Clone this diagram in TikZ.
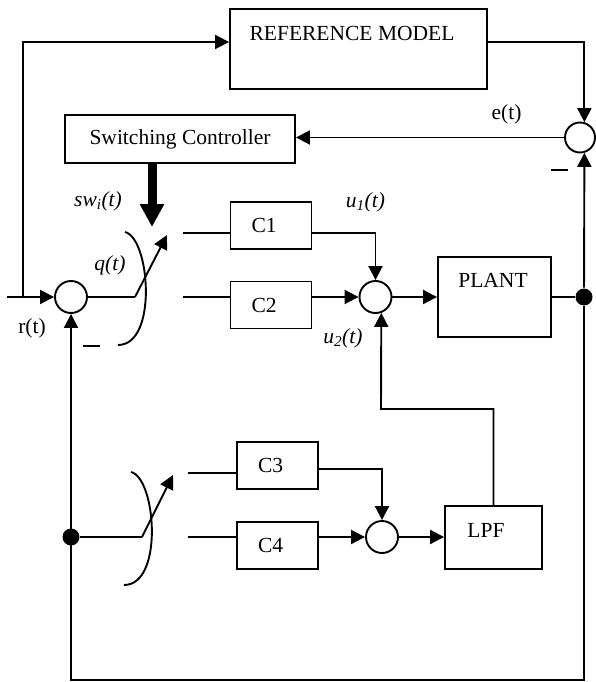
\documentclass[tikz,border=0pt]{standalone}
\usepackage{fontspec}
\setmainfont{Liberation Serif}
\usetikzlibrary{arrows.meta,positioning}

\begin{document}
\begin{tikzpicture}[
    x=1pt, y=-1pt,
    font=\fontsize{21.5}{25}\selectfont,
    line width=1.9pt,
    box/.style={rectangle, draw, inner sep=0pt},
    cbox/.style={rectangle, draw, minimum height=47pt, text width=39pt, inner xsep=21pt, inner ysep=0pt, align=left},
    sum/.style={circle, draw, minimum size=32pt, inner sep=0pt},
    dot/.style={circle, fill, minimum size=17pt, inner sep=0pt},
    arrow/.style={-{Triangle[length=14pt, width=14pt]}},
    thickarrow/.style={-{Triangle[length=23pt, width=23pt]}, line width=9pt},
    minus/.style={inner sep=0pt}
]
\useasboundingbox (0,0) rectangle (595,682);

% blocks
\node[box, minimum width=257pt, minimum height=80pt] (refm) at (358.5,49.3) {};
\node (refmtext) at (352,33) {REFERENCE MODEL};
\node[box, minimum width=230pt, minimum height=48pt] (swc) at (180,139) {Switching Controller};
\node[sum, minimum size=30pt] (err) at (580,137.5) {};
\node[sum] (sum1) at (71,297) {};
\node[cbox] (c1) at (271,225.5) {C1};
\node[cbox] (c2) at (271,305) {C2};
\node[sum] (sum2) at (375.5,297) {};
\node[box, minimum width=113pt, minimum height=80pt] (plant) at (494.5,297) {};
\node (planttext) at (493,280) {PLANT};
\node[dot] (out) at (584,297) {};
\node[dot] (split) at (71,537) {};
\node[cbox] (c3) at (277.5,465.5) {C3};
\node[cbox] (c4) at (277.5,545.5) {C4};
\node[sum] (sum3) at (382,537) {};
\node[box, minimum width=97pt, minimum height=63pt] (lpf) at (493.5,537.5) {};
\node (lpftext) at (486,530) {LPF};

% labels
\node (elabel) at (506.5,114) {e(t)};
\node (swlabel) at (98,201) {\textit{sw\textsubscript{i}(t)}};
\node (u1label) at (365.5,202) {\textit{u\textsubscript{1}(t)}};
\node (qlabel) at (110,265.5) {\textit{q(t)}};
\node (rlabel) at (32,328) {r(t)};
\node (u2label) at (343,338.5) {\textit{u\textsubscript{2}(t)}};
\node[minus] (minus1) at (91,346) {\rule{17pt}{2pt}};
\node[minus] (minus2) at (559,170) {\rule{17pt}{2pt}};

% switch points and free ends
\coordinate (in) at (7,297);
\coordinate (rbranch) at (23,297);
\coordinate (pivot1) at (135,297);
\coordinate (tip1) at (167,235);
\coordinate (pivot2) at (142,537);
\coordinate (tip2) at (173,475);
\coordinate (swtip) at (152,227);
\coordinate (c1in) at (183,233);
\coordinate (c2in) at (183,297);
\coordinate (c3in) at (188,473);
\coordinate (c4in) at (188,537);
\coordinate (bottom) at (71,680);
\coordinate (lpfturn) at (381,409);

% upper loop
\draw[arrow] (in) -- (sum1);
\draw[arrow] (rbranch) |- ([yshift=7.3pt]refm.west);
\draw[arrow] ([yshift=7.3pt]refm.east) -| (err.74.5);
\draw[arrow] (err) -- (err -| swc.east);
\draw[thickarrow] (swc.south -| swtip) -- (swtip);
\draw (sum1) -- (pivot1);
\draw[arrow] (pivot1) -- (tip1);
\draw (125,232) .. controls (150,238) and (158,345) .. (118,345);
\draw (c1in) -- (c1in -| c1.west);
\draw (c2in) -- (c2in -| c2.west);
\draw[arrow] (c1.east |- c1in) -| (sum2.north);
\draw[arrow] (c2.east |- c2in) -- (sum2.west);
\draw[arrow] (sum2) -- (plant);
\draw (plant) -- (out);
\draw[arrow] (out) -- (err.-74.5);
\draw[arrow] (out) |- (bottom) -- (sum1.south);

% lower loop
\draw (split) -- (pivot2);
\draw[arrow] (pivot2) -- (tip2);
\draw (131,472) .. controls (156,478) and (164,585) .. (124,585);
\draw (c3in) -- (c3in -| c3.west);
\draw (c4in) -- (c4in -| c4.west);
\draw[arrow] ([yshift=-3.5pt]c3.east) -| (sum3.north);
\draw[arrow] (c4.east |- c4in) -- (sum3.west);
\draw[arrow] (sum3.east) -- (sum3.east -| lpf.west);
\draw[arrow] (lpf.north) |- (lpfturn) -- (sum2.-70);
\end{tikzpicture}
\end{document}
